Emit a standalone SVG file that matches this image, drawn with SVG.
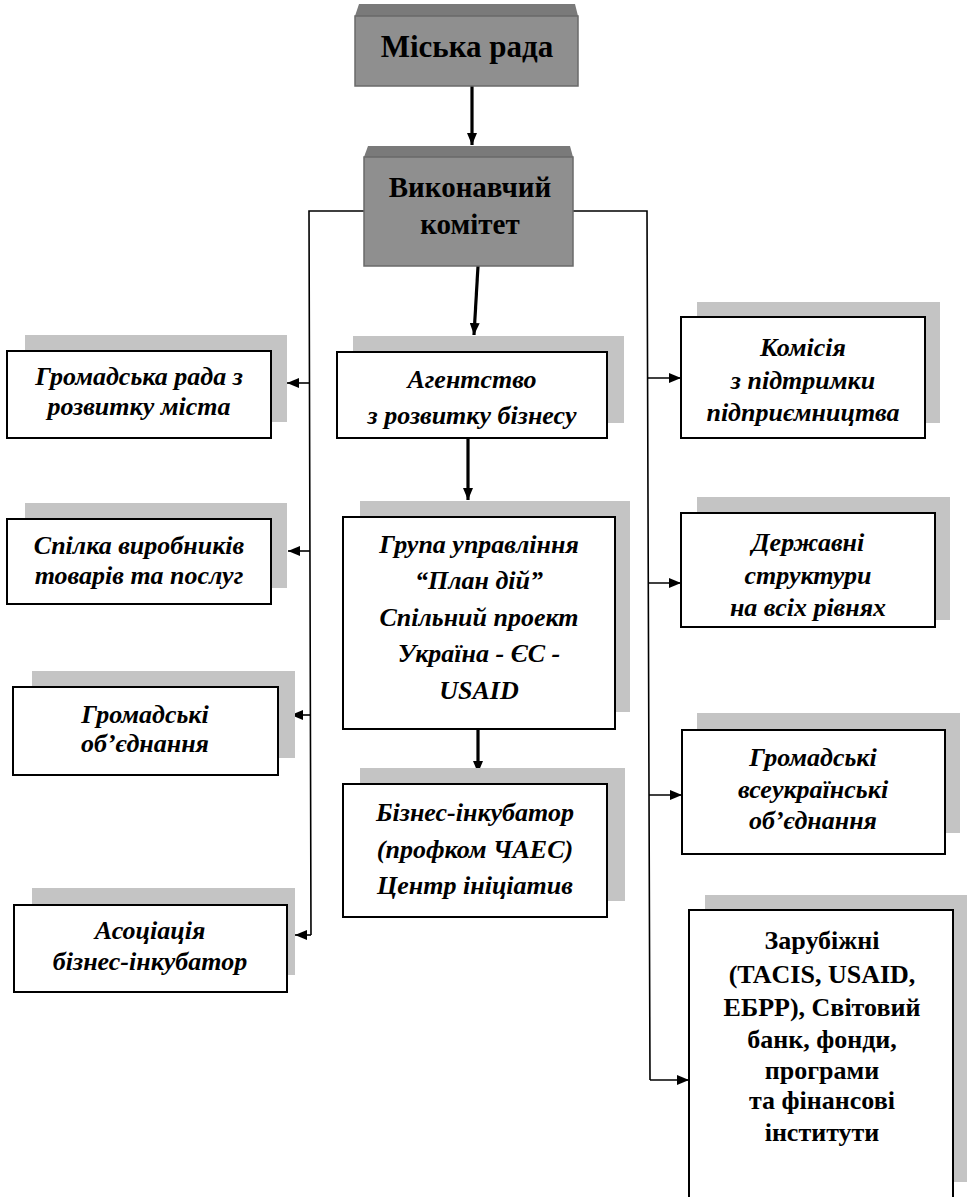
<svg xmlns="http://www.w3.org/2000/svg" width="967" height="1197" viewBox="0 0 967 1197" font-family="Liberation Serif, serif">
<style>
.bx{fill:#fff;stroke:#000;stroke-width:2}
.sh{fill:#c4c4c4}
.dk{fill:#8f8f8f;stroke:#6a6a6a;stroke-width:1.5}
.bev{fill:#7a7a7a}
text{font-weight:bold;text-anchor:middle;fill:#000}
.t{font-style:italic;font-size:26px}
.tb{font-size:26px}
.thin{fill:none;stroke:#000;stroke-width:1.6}
.thick{fill:none;stroke:#000;stroke-width:3.2}
</style>
<defs>
<marker id="ah" viewBox="0 0 12 10" refX="12" refY="5" markerWidth="12" markerHeight="10" markerUnits="userSpaceOnUse" orient="auto">
<path d="M0,0 L12,5 L0,10 Z" fill="#000"/>
</marker>
</defs>
<rect width="967" height="1197" fill="#fff"/>

<g id="connectors">
<line class="thick" x1="472" y1="86" x2="472" y2="145" marker-end="url(#ah)"/>
<line class="thick" x1="478" y1="266" x2="474" y2="335" marker-end="url(#ah)"/>
<line class="thick" x1="468" y1="438" x2="468" y2="500" marker-end="url(#ah)"/>
<line class="thick" x1="478" y1="729" x2="478" y2="773" marker-end="url(#ah)"/>
<polyline class="thin" points="364,211 309,211 311,935"/>
<polyline class="thin" points="573,211 647,211 650,1080"/>
<line class="thin" x1="309" y1="383" x2="287" y2="383" marker-end="url(#ah)"/>
<line class="thin" x1="310" y1="551" x2="288" y2="551" marker-end="url(#ah)"/>
<line class="thin" x1="310" y1="715" x2="291" y2="715" marker-end="url(#ah)"/>
<line class="thin" x1="311" y1="935" x2="295" y2="935" marker-end="url(#ah)"/>
<line class="thin" x1="648" y1="378" x2="681" y2="378" marker-end="url(#ah)"/>
<line class="thin" x1="648" y1="583" x2="681" y2="583" marker-end="url(#ah)"/>
<line class="thin" x1="649" y1="795" x2="682" y2="795" marker-end="url(#ah)"/>
<line class="thin" x1="650" y1="1080" x2="689" y2="1080" marker-end="url(#ah)"/>
</g>

<g id="miska-rada">
<polygon class="bev" points="359,4 575,4 578,16 355,16"/>
<rect class="dk" x="355" y="16" width="223" height="70"/>
<text class="tb" x="467" y="57" style="font-size:31px">Міська рада</text>
</g>

<g id="vykonkom">
<polygon class="bev" points="368,146 570,146 573,157 364,157"/>
<rect class="dk" x="364" y="157" width="209" height="109"/>
<text class="tb" x="470" y="197" style="font-size:29px">Виконавчий</text>
<text class="tb" x="470" y="234" style="font-size:29px">комітет</text>
</g>

<g id="hromadska-rada">
<rect class="sh" x="25" y="335" width="262" height="87"/>
<rect class="bx" x="7" y="351" width="264" height="87"/>
<text class="t" x="139" y="385">Громадська рада з</text>
<text class="t" x="139" y="415">розвитку міста</text>
</g>

<g id="spilka">
<rect class="sh" x="25" y="503" width="262" height="85"/>
<rect class="bx" x="7" y="519" width="264" height="85"/>
<text class="t" x="139" y="554">Спілка виробників</text>
<text class="t" x="139" y="584">товарів та послуг</text>
</g>

<g id="hromadski-obiednannia">
<rect class="sh" x="32" y="671" width="263" height="87"/>
<rect class="bx" x="13" y="687" width="265" height="88"/>
<text class="t" x="145" y="723">Громадські</text>
<text class="t" x="145" y="752">об’єднання</text>
</g>

<g id="asotsiatsiia">
<rect class="sh" x="32" y="888" width="263" height="87"/>
<rect class="bx" x="14" y="905" width="273" height="87"/>
<text class="t" x="150" y="939">Асоціація</text>
<text class="t" x="150" y="970">бізнес-інкубатор</text>
</g>

<g id="ahentstvo">
<rect class="sh" x="353" y="336" width="271" height="87"/>
<rect class="bx" x="337" y="352" width="270" height="86"/>
<text class="t" x="472" y="388">Агентство</text>
<text class="t" x="472" y="424">з розвитку бізнесу</text>
</g>

<g id="hrupa">
<rect class="sh" x="360" y="501" width="270" height="211"/>
<rect class="bx" x="343" y="517" width="272" height="212"/>
<text class="t" x="479" y="553">Група управління</text>
<text class="t" x="479" y="589">“План дій”</text>
<text class="t" x="479" y="626">Спільний проект</text>
<text class="t" x="479" y="662">Україна - ЄС -</text>
<text class="t" x="479" y="699">USAID</text>
</g>

<g id="biznes-inkubator">
<rect class="sh" x="360" y="768" width="265" height="133"/>
<rect class="bx" x="343" y="784" width="264" height="133"/>
<text class="t" x="475" y="821">Бізнес-інкубатор</text>
<text class="t" x="475" y="858">(профком ЧАЕС)</text>
<text class="t" x="475" y="894">Центр ініціатив</text>
</g>

<g id="komisiia">
<rect class="sh" x="697" y="302" width="243" height="121"/>
<rect class="bx" x="681" y="317" width="244" height="121"/>
<text class="t" x="803" y="356">Комісія</text>
<text class="t" x="803" y="389">з підтримки</text>
<text class="t" x="803" y="421">підприємництва</text>
</g>

<g id="derzhavni">
<rect class="sh" x="697" y="497" width="253" height="123"/>
<rect class="bx" x="681" y="513" width="254" height="114"/>
<text class="t" x="808" y="551">Державні</text>
<text class="t" x="808" y="584">структури</text>
<text class="t" x="808" y="616">на всіх рівнях</text>
</g>

<g id="vseukrainski">
<rect class="sh" x="697" y="713" width="263" height="120"/>
<rect class="bx" x="682" y="730" width="263" height="124"/>
<text class="t" x="813" y="766">Громадські</text>
<text class="t" x="813" y="798">всеукраїнські</text>
<text class="t" x="813" y="829">об’єднання</text>
</g>

<g id="zarubizhni">
<rect class="sh" x="705" y="895" width="262" height="287"/>
<rect class="bx" x="689" y="910" width="264" height="300"/>
<text class="tb" x="822" y="949">Зарубіжні</text>
<text class="tb" x="822" y="983">(TACIS, USAID,</text>
<text class="tb" x="822" y="1016">ЕБРР), Світовий</text>
<text class="tb" x="822" y="1048">банк, фонди,</text>
<text class="tb" x="822" y="1079">програми</text>
<text class="tb" x="822" y="1109">та фінансові</text>
<text class="tb" x="822" y="1141">інститути</text>
</g>
</svg>
